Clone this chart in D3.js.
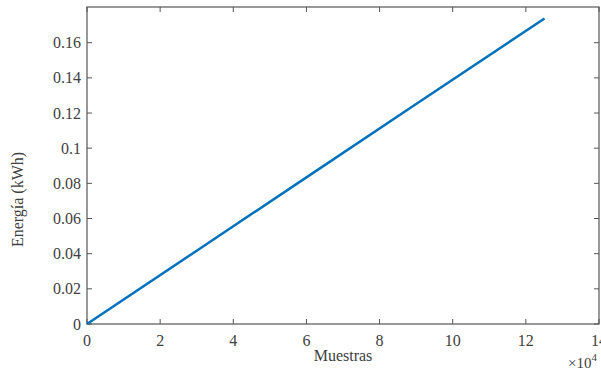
<!DOCTYPE html>
<html>
<head>
<meta charset="utf-8">
<script src="https://cdn.jsdelivr.net/npm/d3@7"></script>
<style>
  body { margin: 0; background: #fff; }
  text { font-family: "Liberation Serif", "DejaVu Serif", serif; fill: #404040; }
</style>
</head>
<body>
<div id="grafica"></div>
<script>
// datos
const muestras = [0, 30000, 60000, 90000, 125100];
const energia  = [0, 0.0417, 0.0834, 0.1251, 0.1738];
const xTicks = [0, 2, 4, 6, 8, 10, 12, 14];
const yTicks = [0, 0.02, 0.04, 0.06, 0.08, 0.1, 0.12, 0.14, 0.16];

const W = 601, H = 375;
const m = { top: 7, right: 2, bottom: 51, left: 87 };
const w = W - m.left - m.right, h = H - m.top - m.bottom;

const svg = d3.select("#grafica").append("svg").attr("width", W).attr("height", H);
const g = svg.append("g").attr("transform", "translate(" + m.left + "," + m.top + ")");

const x = d3.scaleLinear().domain([0, 14]).range([0, w]);
const y = d3.scaleLinear().domain([0, 0.1803]).range([h, 0]);

const axisColor = "#555";
const tk = 5;

// caja
g.append("rect").attr("width", w).attr("height", h)
  .attr("fill", "none").attr("stroke", axisColor).attr("stroke-width", 1.2);

// ticks hacia dentro, en los cuatro lados
xTicks.forEach(t => {
  g.append("line").attr("x1", x(t)).attr("x2", x(t)).attr("y1", h).attr("y2", h - tk)
    .attr("stroke", axisColor);
  g.append("line").attr("x1", x(t)).attr("x2", x(t)).attr("y1", 0).attr("y2", tk)
    .attr("stroke", axisColor);
  g.append("text").attr("x", x(t)).attr("y", h + 22).attr("text-anchor", "middle")
    .style("font-size", "16px").text(t);
});
yTicks.forEach(t => {
  g.append("line").attr("x1", 0).attr("x2", tk).attr("y1", y(t)).attr("y2", y(t))
    .attr("stroke", axisColor);
  g.append("line").attr("x1", w).attr("x2", w - tk).attr("y1", y(t)).attr("y2", y(t))
    .attr("stroke", axisColor);
  g.append("text").attr("x", -6).attr("y", y(t)).attr("dy", "0.35em").attr("text-anchor", "end")
    .style("font-size", "16px").text(t);
});

// linea
const line = d3.line().x((d, i) => x(muestras[i] / 1e4)).y(d => y(d));
g.append("path").datum(energia).attr("d", line)
  .attr("fill", "none").attr("stroke", "#0072BD").attr("stroke-width", 2.5);

// etiquetas
svg.append("text").attr("x", m.left + w / 2).attr("y", 361).attr("text-anchor", "middle")
  .style("font-size", "16px").text("Muestras");
svg.append("text").attr("transform", "translate(23," + (m.top + h / 2 + 34) + ") rotate(-90)")
  .attr("text-anchor", "middle").style("font-size", "16px").text("Energía (kWh)");

const exp = svg.append("text").attr("x", 568).attr("y", 368).style("font-size", "15px");
exp.append("tspan").text("×10");
exp.append("tspan").attr("dy", -7).style("font-size", "11px").text("4");
</script>
</body>
</html>
